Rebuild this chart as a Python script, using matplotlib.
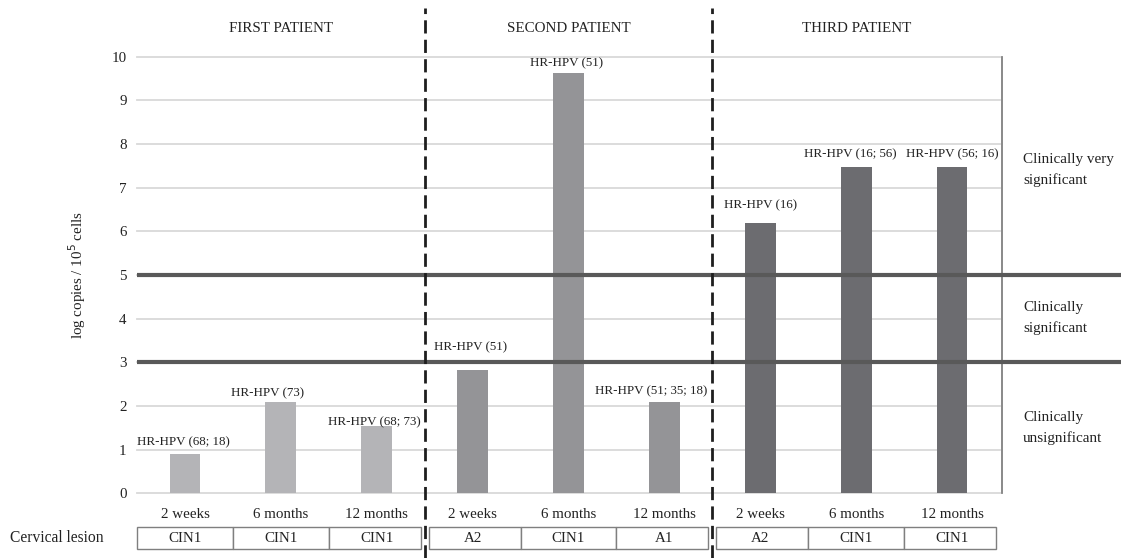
import matplotlib
matplotlib.use('Agg')
import matplotlib.pyplot as plt
import matplotlib.transforms as mtrans
from matplotlib.patches import Rectangle

plt.rcParams['font.family'] = ['Liberation Serif', 'DejaVu Serif']
plt.rcParams['lines.scale_dashes'] = False

# ---------------- data ----------------
patients = ['FIRST PATIENT', 'SECOND PATIENT', 'THIRD PATIENT']
time_points = ['2 weeks', '6 months', '12 months'] * 3
values = [0.90, 2.09, 1.54, 2.82, 9.63, 2.10, 6.20, 7.48, 7.48]
hpv_labels = ['HR-HPV (68; 18)', 'HR-HPV (73)', 'HR-HPV (68; 73)',
              'HR-HPV (51)', 'HR-HPV (51)', 'HR-HPV (51; 35; 18)',
              'HR-HPV (16)', 'HR-HPV (16; 56)', 'HR-HPV (56; 16)']
lesions = ['CIN1', 'CIN1', 'CIN1', 'A2', 'CIN1', 'A1', 'A2', 'CIN1', 'CIN1']
yticks = list(range(0, 11))
thresholds = [3, 5]
zone_labels = ['Clinically very\nsignificant', 'Clinically\nsignificant',
               'Clinically\nunsignificant']

# ---------------- style ----------------
group_colors = ['#b4b4b7', '#949497', '#6c6c70']
bar_colors = [group_colors[i // 3] for i in range(len(values))]
label_dx = [-2, -13, -2, -2, -2, -13, 0, -6, 0]      # pixels
label_dy = [12, 9, 4, 23, 9, 10, 17, 12, 12]         # pixels
zone_y = [7.40, 4.01, 1.50]

W, H = 1121, 558
fig = plt.figure(figsize=(W / 100, H / 100), dpi=100)
ax = fig.add_axes([137 / W, 64.7 / H, 863 / W, 436.7 / H])

x = list(range(len(values)))
ax.bar(x, values, width=0.32, color=bar_colors, zorder=3)
ax.set_xlim(-0.5, len(values) - 0.5)
ax.set_ylim(0, 10)

for s in ax.spines.values():
    s.set_visible(False)
ax.set_xticks([])
ax.set_yticks(yticks)
ax.tick_params(axis='y', length=0, pad=7.5, labelsize=10.8, colors='#222222')

# gridlines
for yv in yticks:
    ax.plot([0, 1], [yv, yv], transform=ax.get_yaxis_transform(),
            color='#d9d9d9', lw=1.3, zorder=1, clip_on=False)
# thresholds
for t in thresholds:
    ax.plot([0, (W - 137) / 863], [t, t], transform=ax.get_yaxis_transform(),
            color='#595959', lw=3.0, zorder=4, clip_on=False, solid_capstyle='butt')
# right vertical line
ax.plot([1.0023, 1.0023], [0, 10], transform=ax.get_yaxis_transform(),
        color='#808080', lw=1.3, zorder=2, clip_on=False)

# dashed separators
btrans = mtrans.blended_transform_factory(ax.transData, fig.transFigure)
for xs in [2.5, 5.5]:
    ax.plot([xs, xs], [0, 1 - 8 / H], transform=btrans, color='#1e1e1e',
            lw=2.0, dashes=(9.5, 4.5), clip_on=False, zorder=5)

# patient titles
for g, name in enumerate(patients):
    ax.text(3 * g + 1, 1 - 29 / H, name, transform=btrans, ha='center',
            va='center', fontsize=10.8, color='#222222')

# bar labels
for i, (v, lbl) in enumerate(zip(values, hpv_labels)):
    ax.annotate(lbl, (i, v), xytext=(label_dx[i], label_dy[i]),
                textcoords='offset pixels', ha='center', va='center',
                fontsize=9.4, color='#222222', zorder=6)

# zone labels
for zl, zy in zip(zone_labels, zone_y):
    ax.text((1023 - 137) / 863, zy, zl, transform=ax.get_yaxis_transform(),
            ha='left', va='center', fontsize=10.9, linespacing=1.7,
            color='#222222')

# y label
ax.set_ylabel('log copies / 10$^5$ cells', fontsize=10.8, color='#222222')
ax.yaxis.set_label_coords((88 - 137) / 863, 0.5)

# time labels and lesion table
for i, tp in enumerate(time_points):
    ax.text(i, 1 - 514 / H, tp, transform=btrans, ha='center', va='center',
            fontsize=10.8, color='#222222')

gap = 0.04
cell_y0, cell_h = 1 - 549 / H, 22 / H
for i, les in enumerate(lesions):
    x0, x1 = i - 0.5, i + 0.5
    if i % 3 == 0 and i > 0:
        x0 += gap
    if i % 3 == 2:
        x1 -= gap
    rect = Rectangle((x0, cell_y0), x1 - x0, cell_h, transform=btrans,
                     facecolor='white', edgecolor='#7f7f7f', lw=1.0,
                     clip_on=False, zorder=2)
    ax.add_patch(rect)
    ax.text(i, cell_y0 + cell_h / 2, les, transform=btrans, ha='center',
            va='center', fontsize=10.8, color='#222222')

fig.text(10 / W, 1 - 538 / H, 'Cervical lesion', ha='left', va='center',
         fontsize=11.2, color='#222222')

fig.savefig('out.png', dpi=100)
